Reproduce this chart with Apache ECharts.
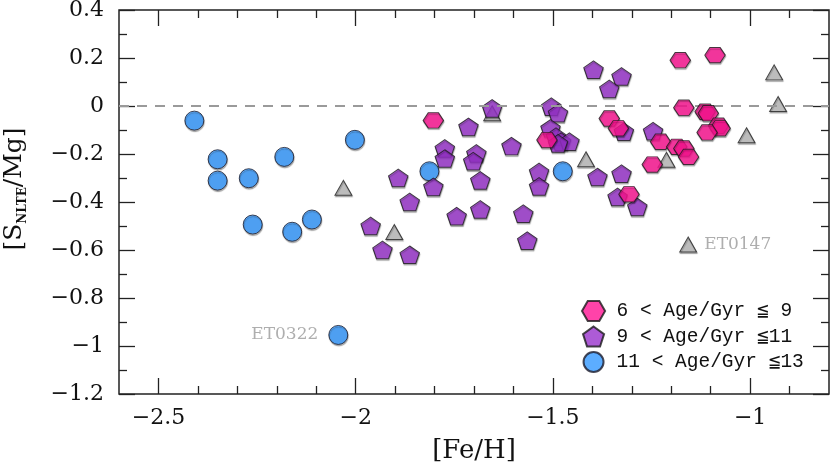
<!DOCTYPE html>
<html>
<head>
<meta charset="utf-8">
<script src="https://cdn.jsdelivr.net/npm/echarts@6/dist/echarts.min.js"></script>
<style>
html,body{margin:0;padding:0;background:#fff;}
#chart{width:830px;height:469px;}
</style>
</head>
<body>
<div id="chart"></div>
<script>
// ---- Data ----
// 6 < Age/Gyr <= 9 (pink hexagons)
const pinkFe = [-1.803, -1.515, -1.177, -1.089, -1.168, -1.114, -1.106, -1.080, -1.076, -1.109, -1.357, -1.334, -1.227, -1.186, -1.168, -1.156, -1.248, -1.307];
const pinkS  = [-0.060, -0.142,  0.191,  0.212, -0.007, -0.024, -0.030, -0.082, -0.093, -0.110, -0.052, -0.093, -0.149, -0.170, -0.177, -0.212, -0.244, -0.368];
// 9 < Age/Gyr <= 11 (purple pentagons)
const purpleFe = [-1.892, -1.863, -1.962, -1.932, -1.863, -1.774, -1.774, -1.803, -1.714, -1.694, -1.702, -1.684, -1.684, -1.744, -1.654, -1.605, -1.575, -1.565, -1.535, -1.535, -1.504, -1.487, -1.506, -1.492, -1.479, -1.458, -1.487, -1.397, -1.326, -1.357, -1.320, -1.246, -1.387, -1.326, -1.336, -1.286];
const purpleS  = [-0.300, -0.400, -0.500, -0.600, -0.620, -0.177, -0.219, -0.337, -0.087, -0.198, -0.230, -0.310, -0.431, -0.459, -0.010, -0.167, -0.449, -0.561, -0.275, -0.335, -0.003, -0.030, -0.093, -0.128, -0.149, -0.149, -0.156,  0.151,  0.123,  0.071, -0.107, -0.105, -0.296, -0.282, -0.379, -0.421];
// 11 < Age/Gyr <= 13 (blue circles)
const blueFe = [-2.409, -2.350, -2.350, -2.271, -2.181, -2.261, -2.161, -2.111, -2.002, -1.813, -1.475, -2.044];
const blueS  = [-0.061, -0.222, -0.311, -0.301, -0.212, -0.494, -0.524, -0.473, -0.141, -0.272, -0.272, -0.954];
const blueNames = ['', '', '', '', '', '', '', '', '', '', '', 'ET0322'];
// stars without age (grey triangles)
const grayFe = [-2.031, -1.902, -1.654, -1.416, -1.212, -1.009, -0.939, -0.929, -1.157];
const grayS  = [-0.341, -0.525, -0.030, -0.222, -0.224, -0.122,  0.140,  0.008, -0.577];
const grayNames = ['', '', '', '', '', '', '', '', 'ET0147'];

const legendNames = ['6 < Age/Gyr \u2266 9', '9 < Age/Gyr \u226611', '11 < Age/Gyr \u226613'];

const xMajorTicks = [-2.5, -2, -1.5, -1];
const xMinorTicks = [-2.4, -2.3, -2.2, -2.1, -1.9, -1.8, -1.7, -1.6, -1.4, -1.3, -1.2, -1.1, -0.9];
const yMajorTicks = [-1.2, -1, -0.8, -0.6, -0.4, -0.2, 0, 0.2, 0.4];
const yMinorTicks = [-1.1, -0.9, -0.7, -0.5, -0.3, -0.1, 0.1, 0.3];

// ---- Chart ----
const HEX = 'path://M0,866L500,0L1500,0L2000,866L1500,1732L500,1732Z';
const PENT = 'path://M951,0L1902,691L1539,1809L363,1809L0,691Z';
const fmt = v => String(v).replace('-', '\u2212');
const serif = "'DejaVu Serif', 'Liberation Serif', serif";

function pts(xs, ys, names, side) {
  return xs.map((x, i) => {
    const d = { value: [x, ys[i]] };
    if (names && names[i]) {
      d.name = names[i];
      d.label = {
        show: true, formatter: names[i], position: side, distance: side === 'left' ? 10 : 7,
        color: '#9a9a9a', fontSize: 17, fontFamily: serif
      };
    }
    return d;
  });
}

const X_MIN = -2.6, X_MAX = -0.8, Y_MIN = -1.2, Y_MAX = 0.4;
function xAx(pos, ticks, len, labels) {
  const a = {
    type: 'value', position: pos, min: X_MIN, max: X_MAX, gridIndex: 0,
    axisLine: { show: false, onZero: false }, splitLine: { show: false },
    axisTick: { show: true, inside: true, length: len, customValues: ticks, lineStyle: { color: '#222', width: 1.3 } },
    axisLabel: { show: labels }
  };
  if (labels) {
    a.axisLabel = { show: true, customValues: ticks, formatter: fmt, fontSize: 22, color: '#111', fontFamily: serif, margin: 13 };
    a.name = '[Fe/H]'; a.nameLocation = 'middle'; a.nameGap = 44;
    a.nameTextStyle = { fontSize: 26, color: '#111', fontFamily: serif };
  }
  return a;
}
function yAx(pos, ticks, len, labels) {
  const a = {
    type: 'value', position: pos, min: Y_MIN, max: Y_MAX, gridIndex: 0,
    axisLine: { show: false, onZero: false }, splitLine: { show: false },
    axisTick: { show: true, inside: true, length: len, customValues: ticks, lineStyle: { color: '#222', width: 1.3 } },
    axisLabel: { show: labels }
  };
  if (labels) {
    a.axisLabel = { show: true, customValues: ticks, formatter: fmt, fontSize: 22, color: '#111', fontFamily: serif, margin: 15 };
    a.name = '[S{sub|NLTE}/Mg]'; a.nameLocation = 'middle'; a.nameGap = 90;
    a.nameTextStyle = {
      fontSize: 25, color: '#111', fontFamily: serif, padding: [0, 0, 0, 26],
      rich: { sub: { fontSize: 12, fontWeight: 'bold', color: '#111', fontFamily: serif, padding: [17, 0, 0, 0] } }
    };
  }
  return a;
}

const shadow = { shadowColor: 'rgba(0,0,0,0.35)', shadowOffsetY: 1.5, shadowOffsetX: 0.5, shadowBlur: 1 };

const option = {
  backgroundColor: '#fff',
  animation: false,
  grid: { left: 119, right: 1, top: 10, bottom: 75, show: true, borderColor: '#222', borderWidth: 1.5, backgroundColor: 'transparent', containLabel: false, outerBoundsMode: 'none' },
  xAxis: [xAx('bottom', xMajorTicks, 16, true), xAx('bottom', xMinorTicks, 8, false), xAx('top', xMajorTicks, 16, false), xAx('top', xMinorTicks, 8, false)],
  yAxis: [yAx('left', yMajorTicks, 16, true), yAx('left', yMinorTicks, 8, false), yAx('right', yMajorTicks, 16, false), yAx('right', yMinorTicks, 8, false)],
  legend: {
    data: legendNames, orient: 'vertical', left: 581, top: 300, padding: 0,
    itemWidth: 24, itemHeight: 20, itemGap: 3.5,
    textStyle: { fontSize: 19.5, color: '#111', fontFamily: "'Liberation Mono', 'DejaVu Sans Mono', monospace", padding: [0, 0, 0, 6] }
  },
  series: [
    {
      type: 'scatter', name: 'no age', symbol: 'triangle', symbolSize: [17, 15],
      itemStyle: Object.assign({ color: '#bdbdbd', borderColor: '#222', borderWidth: 1 }, shadow),
      data: pts(grayFe, grayS, grayNames, 'right'),
      markLine: {
        silent: true, symbol: 'none', label: { show: false },
        lineStyle: { color: '#9a9a9a', type: [10, 8], width: 2 },
        data: [{ yAxis: 0 }]
      },
      z: 2
    },
    {
      type: 'scatter', name: legendNames[2], symbol: 'circle', symbolSize: 19,
      itemStyle: Object.assign({ color: '#3399ff', borderColor: '#1a1a2a', borderWidth: 1 }, shadow),
      data: pts(blueFe, blueS, blueNames, 'left'), z: 3
    },
    {
      type: 'scatter', name: legendNames[1], symbol: PENT, symbolSize: [19.5, 18.5], symbolKeepAspect: true,
      itemStyle: Object.assign({ color: '#9932cc', borderColor: '#1a1a1a', borderWidth: 1 }, shadow),
      data: pts(purpleFe, purpleS), z: 4
    },
    {
      type: 'scatter', name: legendNames[0], symbol: HEX, symbolSize: [20.5, 17.8], symbolKeepAspect: true,
      itemStyle: Object.assign({ color: '#ff1493', borderColor: '#1a1a1a', borderWidth: 1 }, shadow),
      data: pts(pinkFe, pinkS), z: 5
    }
  ]
};

const chart = echarts.init(document.getElementById('chart'), null, { renderer: 'canvas' });
chart.setOption(option);
</script>
</body>
</html>
